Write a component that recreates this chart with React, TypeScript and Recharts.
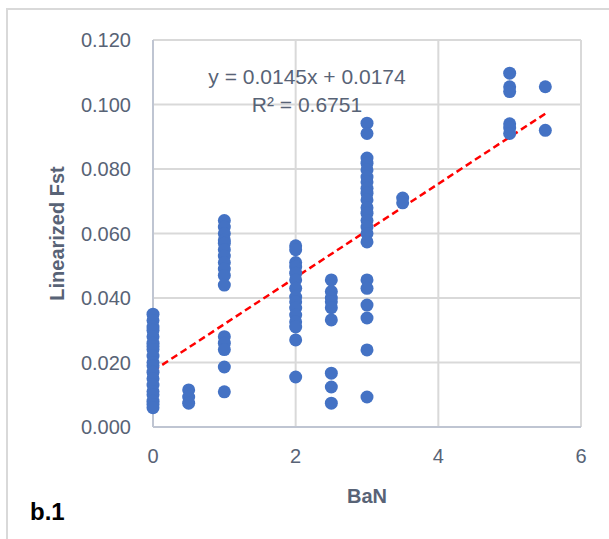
import React from 'react';
import {
  ScatterChart, Scatter, XAxis, YAxis, ZAxis, CartesianGrid, ReferenceLine,
} from 'recharts';

// BaN groups and the linearized Fst values read at each one
const BAN_0 = [0.035, 0.033, 0.031, 0.030, 0.028, 0.026, 0.025, 0.024, 0.022, 0.020, 0.019, 0.017, 0.015, 0.013, 0.011, 0.010, 0.008, 0.007, 0.006];
const BAN_05 = [0.0115, 0.0093, 0.0074];
const BAN_1 = [0.064, 0.062, 0.060, 0.058, 0.057, 0.055, 0.053, 0.051, 0.049, 0.047, 0.044, 0.028, 0.026, 0.024, 0.0186, 0.0109];
const BAN_2 = [0.0562, 0.055, 0.051, 0.0496, 0.0477, 0.0456, 0.043, 0.0403, 0.0388, 0.0369, 0.0347, 0.0326, 0.031, 0.027, 0.0155];
const BAN_25 = [0.0456, 0.042, 0.040, 0.0388, 0.037, 0.0332, 0.0167, 0.0124, 0.0074];
const BAN_3 = [0.0942, 0.091, 0.0834, 0.0818, 0.0797, 0.0775, 0.076, 0.074, 0.0725, 0.0704, 0.068, 0.0663, 0.064, 0.062, 0.060, 0.0574, 0.0456, 0.043, 0.0378, 0.0338, 0.0239, 0.0093];
const BAN_35 = [0.071, 0.0695];
const BAN_5 = [0.1097, 0.1055, 0.104, 0.094, 0.0927, 0.091];
const BAN_55 = [0.1055, 0.092];

const GROUPS: [number, number[]][] = [
  [0, BAN_0], [0.5, BAN_05], [1, BAN_1], [2, BAN_2], [2.5, BAN_25],
  [3, BAN_3], [3.5, BAN_35], [5, BAN_5], [5.5, BAN_55],
];

const X_TICKS = [0, 2, 4, 6];
const Y_TICKS = [0, 0.02, 0.04, 0.06, 0.08, 0.1, 0.12];

const SLOPE = 0.0145;
const INTERCEPT = 0.0174;
const R2 = 0.6751;
const TREND_X = [0, 5.5];

const points = GROUPS.flatMap(([x, ys]) => ys.map((y) => ({ x, y })));

const FONT = '"Liberation Sans", Arial, sans-serif';
const textColor = '#586376';
const tickStyle = { fontSize: 20, fill: textColor, fontFamily: FONT };

const Dot = (props: any) => (
  <circle cx={props.cx} cy={props.cy} r={6.5} fill="#4472C4" />
);

export default function App() {
  return (
    <div style={{ position: 'absolute', left: 0, top: 0, width: 609, height: 539, overflow: 'hidden', background: '#fff' }}>
      <div style={{ position: 'absolute', left: 6, top: 8, width: 700, height: 600, border: '2px solid #d9d9d9' }} />
      <ScatterChart
        width={609}
        height={539}
        margin={{ top: 40, right: 28, bottom: 32, left: 0 }}
        style={{ position: 'absolute', left: 0, top: 0 }}
      >
        <CartesianGrid stroke="#d9d9d9" strokeWidth={2} horizontalValues={Y_TICKS} verticalValues={X_TICKS} />
        <XAxis
          type="number"
          dataKey="x"
          height={80}
          domain={[0, 6]}
          ticks={X_TICKS}
          tick={tickStyle}
          tickLine={false}
          tickMargin={16}
          axisLine={{ stroke: '#bfc5d2', strokeWidth: 2 }}
          label={{ value: 'BaN', position: 'insideBottom', offset: 4, style: { fontSize: 20, fontWeight: 'bold', fill: textColor, fontFamily: FONT } }}
        />
        <YAxis
          type="number"
          dataKey="y"
          width={153}
          domain={[0, 0.12]}
          ticks={Y_TICKS}
          tickFormatter={(v: number) => v.toFixed(3)}
          tick={tickStyle}
          tickLine={false}
          tickMargin={16}
          axisLine={{ stroke: '#bfc5d2', strokeWidth: 2 }}
          label={{ value: 'Linearized Fst', angle: -90, position: 'insideLeft', offset: 0, dx: 57, style: { textAnchor: 'middle', fontSize: 20, fontWeight: 'bold', fill: textColor, fontFamily: FONT } }}
        />
        <ZAxis range={[133, 133]} />
        <Scatter data={points} shape={Dot} isAnimationActive={false} />
        <ReferenceLine
          segment={TREND_X.map((x) => ({ x, y: SLOPE * x + INTERCEPT }))}
          stroke="#ff0000"
          strokeWidth={2.5}
          strokeDasharray="7 4"
        />
      </ScatterChart>
      <div style={{ position: 'absolute', left: 157, top: 63, width: 300, textAlign: 'center', fontFamily: FONT, fontSize: 21, color: textColor, lineHeight: '28px' }}>
        <div>y = {SLOPE}x + {INTERCEPT}</div>
        <div>R² = {R2}</div>
      </div>
      <div style={{ position: 'absolute', left: 30, top: 498, fontFamily: FONT, fontSize: 24, fontWeight: 'bold', color: '#000' }}>
        b.1
      </div>
    </div>
  );
}
